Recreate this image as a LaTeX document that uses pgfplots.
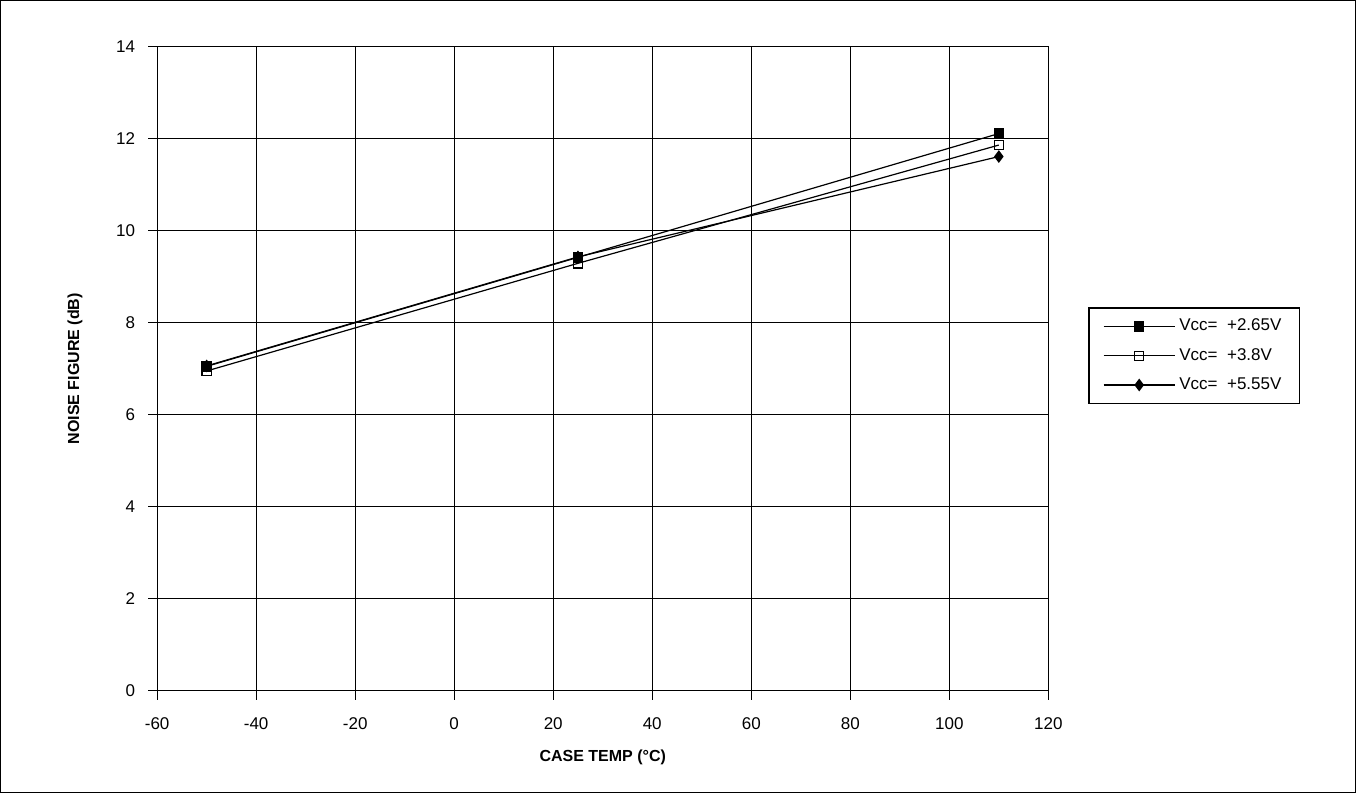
\documentclass[border=0pt]{standalone}
\usepackage{fontspec}
\setmainfont{Liberation Sans}
\usepackage{pgfplots}
\pgfplotsset{compat=1.18}
\begin{document}
\begin{tikzpicture}
\begin{axis}[
    at={(0,0)}, anchor=south west,
    scale only axis,
    width=445.5pt, height=322pt,
    xmin=-60, xmax=120, ymin=0, ymax=14,
    xtick={-60,-40,...,120},
    ytick={0,2,...,14},
    xtick pos=bottom, ytick pos=left,
    grid=major,
    grid style={black, line width=0.6pt},
    axis line style={black, line width=0.6pt},
    tick align=outside,
    major tick length=4.5pt,
    tick style={black, line width=0.6pt},
    /pgf/number format/assume math mode=true,
    ticklabel style={font=\fontsize{8.5}{10}\selectfont},
    xticklabel style={yshift=-5.5pt},
    yticklabel style={xshift=-3pt},
    xlabel={\textbf{CASE TEMP (°C)}},
    ylabel={\textbf{NOISE FIGURE (dB)}},
    label style={font=\fontsize{8}{10}\selectfont},
    xlabel style={yshift=-3pt},
    ylabel style={yshift=10pt},
    legend style={at={(1.045,0.595)}, anchor=north west, draw=black,
        line width=0.6pt, font=\fontsize{8.5}{10}\selectfont,
        inner xsep=7pt, inner ysep=3.5pt, row sep=3.2pt,
        cells={anchor=west}},
    legend image code/.code={
        \draw[#1, mark=none] (0cm,0cm) -- (1.25cm,0cm);
        \draw[#1, only marks] plot coordinates {(0.625cm,0cm)};
    },
    every axis plot/.append style={black, line width=0.6pt},
]
\addplot[mark=square*, mark size=2.3pt, mark options={fill=black}] coordinates {
    (-50, 7.05) (25, 9.42) (110, 12.11)
};
\addlegendentry{Vcc=\ \ +2.65V}
\addplot[mark=square, mark size=2.3pt, mark options={fill=white}] coordinates {
    (-50, 6.95) (25, 9.29) (110, 11.86)
};
\addlegendentry{Vcc=\ \ +3.8V}
\addplot[mark=diamond*, mark size=2.7pt, mark options={fill=black}] coordinates {
    (-50, 7.06) (25, 9.43) (110, 11.61)
};
\addlegendentry{Vcc=\ \ +5.55V}
\end{axis}
\draw[black, line width=0.6pt] (-78.25pt,-51pt) rectangle (599pt,345pt);
\end{tikzpicture}
\end{document}
